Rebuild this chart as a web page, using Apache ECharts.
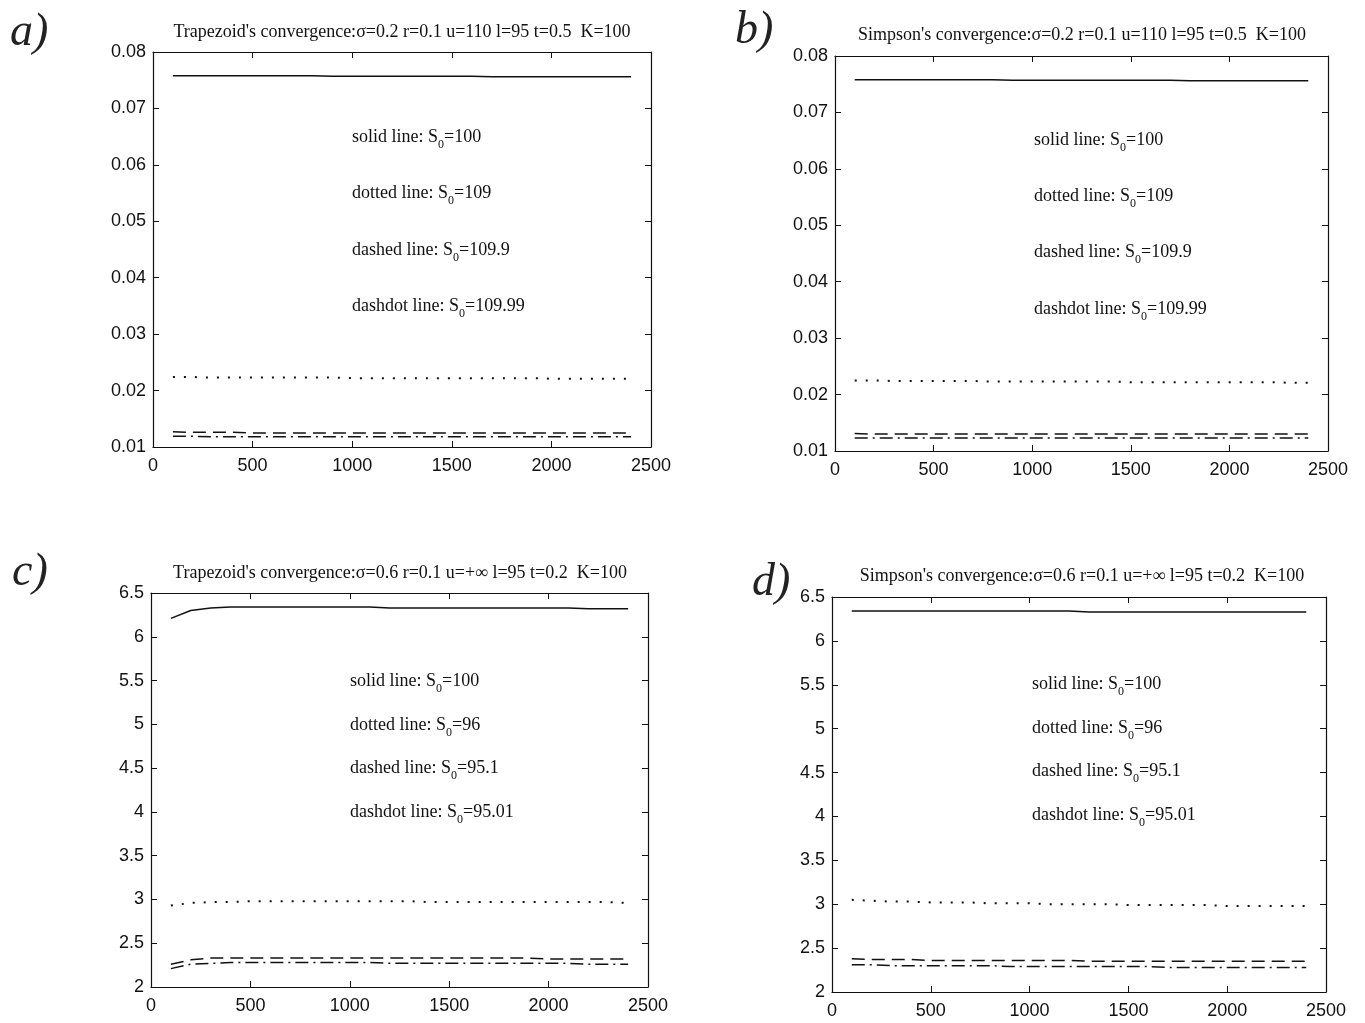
<!DOCTYPE html>
<html>
<head>
<meta charset="utf-8">
<script src="https://cdn.jsdelivr.net/npm/echarts@6/dist/echarts.min.js"></script>
<style>
  html, body { margin: 0; padding: 0; background: #fff; }
  #main { width: 1365px; height: 1023px; }
</style>
</head>
<body>
<div id="main"></div>
<script>
// x positions (number of steps)
var steps = [100,200,300,400,500,600,700,800,900,1000,1100,1200,1300,1400,1500,1600,1700,1800,1900,2000,2100,2200,2300,2400];

// a) trapezoid, sigma=0.2
var aSolid   = [0.0758,0.0758,0.0758,0.0758,0.0758,0.0758,0.0758,0.0758,0.0757,0.0757,0.0757,0.0757,0.0757,0.0757,0.0757,0.0757,0.0756,0.0756,0.0756,0.0756,0.0756,0.0756,0.0756,0.0756];
var aDotted  = [0.0224,0.0224,0.0223,0.0223,0.0223,0.0223,0.0223,0.0223,0.0223,0.0222,0.0222,0.0222,0.0222,0.0222,0.0222,0.0222,0.0222,0.0222,0.0222,0.0221,0.0221,0.0221,0.0221,0.0221];
var aDashed  = [0.0127,0.0126,0.0126,0.0126,0.0125,0.0125,0.0125,0.0125,0.0125,0.0125,0.0125,0.0125,0.0125,0.0125,0.0125,0.0125,0.0125,0.0125,0.0125,0.0125,0.0125,0.0125,0.0125,0.0125];
var aDashdot = [0.0119,0.0119,0.0118,0.0118,0.0118,0.0118,0.0118,0.0118,0.0118,0.0118,0.0118,0.0118,0.0118,0.0118,0.0118,0.0118,0.0118,0.0118,0.0118,0.0118,0.0118,0.0118,0.0118,0.0118];

// b) simpson, sigma=0.2
var bSolid   = [0.0758,0.0758,0.0758,0.0758,0.0758,0.0758,0.0758,0.0758,0.0757,0.0757,0.0757,0.0757,0.0757,0.0757,0.0757,0.0757,0.0757,0.0756,0.0756,0.0756,0.0756,0.0756,0.0756,0.0756];
var bDotted  = [0.0225,0.0225,0.0224,0.0224,0.0224,0.0224,0.0224,0.0223,0.0223,0.0223,0.0223,0.0223,0.0223,0.0223,0.0222,0.0222,0.0222,0.0222,0.0222,0.0222,0.0222,0.0222,0.0221,0.0221];
var bDashed  = [0.0131,0.0130,0.0130,0.0130,0.0130,0.0130,0.0130,0.0130,0.0130,0.0130,0.0130,0.0130,0.0130,0.0130,0.0130,0.0130,0.0130,0.0130,0.0130,0.0130,0.0130,0.0130,0.0130,0.0130];
var bDashdot = [0.0123,0.0123,0.0123,0.0123,0.0123,0.0123,0.0123,0.0123,0.0123,0.0123,0.0123,0.0123,0.0123,0.0123,0.0123,0.0123,0.0123,0.0123,0.0123,0.0123,0.0123,0.0123,0.0123,0.0123];

// c) trapezoid, sigma=0.6
var cSolid   = [6.21,6.30,6.33,6.34,6.34,6.34,6.34,6.34,6.34,6.34,6.34,6.33,6.33,6.33,6.33,6.33,6.33,6.33,6.33,6.33,6.33,6.32,6.32,6.32];
var cDotted  = [2.93,2.96,2.97,2.97,2.98,2.98,2.98,2.98,2.98,2.98,2.98,2.98,2.98,2.97,2.97,2.97,2.97,2.97,2.97,2.97,2.97,2.97,2.97,2.96];
var cDashed  = [2.26,2.31,2.33,2.33,2.33,2.33,2.33,2.33,2.33,2.33,2.33,2.33,2.33,2.33,2.33,2.33,2.33,2.33,2.33,2.32,2.32,2.32,2.32,2.32];
var cDashdot = [2.21,2.26,2.27,2.28,2.28,2.28,2.28,2.28,2.28,2.28,2.28,2.27,2.27,2.27,2.27,2.27,2.27,2.27,2.27,2.27,2.27,2.26,2.26,2.26];

// d) simpson, sigma=0.6
var dSolid   = [6.34,6.34,6.34,6.34,6.34,6.34,6.34,6.34,6.34,6.34,6.34,6.34,6.33,6.33,6.33,6.33,6.33,6.33,6.33,6.33,6.33,6.33,6.33,6.33];
var dDotted  = [3.05,3.04,3.03,3.03,3.02,3.02,3.02,3.01,3.01,3.01,3.00,3.00,3.00,3.00,2.99,2.99,2.99,2.99,2.99,2.98,2.98,2.98,2.98,2.98];
var dDashed  = [2.38,2.37,2.37,2.37,2.36,2.36,2.36,2.36,2.36,2.36,2.36,2.36,2.35,2.35,2.35,2.35,2.35,2.35,2.35,2.35,2.35,2.35,2.35,2.35];
var dDashdot = [2.31,2.31,2.30,2.30,2.30,2.30,2.30,2.30,2.29,2.29,2.29,2.29,2.29,2.29,2.29,2.29,2.28,2.28,2.28,2.28,2.28,2.28,2.28,2.28];

var xTicks = [0, 2500, 500];

var titles = [
  "Trapezoid's convergence:\u03c3=0.2 r=0.1 u=110 l=95 t=0.5  K=100",
  "Simpson's convergence:\u03c3=0.2 r=0.1 u=110 l=95 t=0.5  K=100",
  "Trapezoid's convergence:\u03c3=0.6 r=0.1 u=+\u221e l=95 t=0.2  K=100",
  "Simpson's convergence:\u03c3=0.6 r=0.1 u=+\u221e l=95 t=0.2  K=100"
];
var s0Top = ['100', '109', '109.9', '109.99'];
var s0Bottom = ['100', '96', '95.1', '95.01'];
var lineNames = ['solid line', 'dotted line', 'dashed line', 'dashdot line'];

const chart = echarts.init(document.getElementById('main'));

var panels = [
  {left: 153, top: 52, width: 498, height: 395, yMin: 0.01, yMax: 0.08, yInt: 0.01, data: [aSolid, aDotted, aDashed, aDashdot], s0: s0Top, tx: 352, ty: [135, 191, 248, 304], tc: 402, tt: 32, label: 'a)', lx: 10, ly: 10},
  {left: 835, top: 56, width: 493, height: 395, yMin: 0.01, yMax: 0.08, yInt: 0.01, data: [bSolid, bDotted, bDashed, bDashdot], s0: s0Top, tx: 1034, ty: [138, 194, 250, 307], tc: 1082, tt: 35, label: 'b)', lx: 735, ly: 8},
  {left: 151, top: 593, width: 497, height: 394, yMin: 2, yMax: 6.5, yInt: 0.5, data: [cSolid, cDotted, cDashed, cDashdot], s0: s0Bottom, tx: 350, ty: [679, 723, 766, 810], tc: 400, tt: 573, label: 'c)', lx: 12, ly: 550},
  {left: 832, top: 597, width: 494, height: 395, yMin: 2, yMax: 6.5, yInt: 0.5, data: [dSolid, dDotted, dDashed, dDashdot], s0: s0Bottom, tx: 1032, ty: [682, 726, 769, 813], tc: 1082, tt: 576, label: 'd)', lx: 752, ly: 560}
];

var lineTypes = ['solid', [2, 9], [13, 7], [13, 5, 2, 5]];

var grids = [], xAxes = [], yAxes = [], series = [], graphics = [];
var axisCommon = {
  axisLine: {onZero: false, lineStyle: {color: '#111', width: 1.2}},
  axisTick: {inside: true, length: 6, lineStyle: {color: '#111'}},
  splitLine: {show: false}
};
var tickFont = {color: '#111', fontFamily: 'Liberation Sans', fontSize: 18};

panels.forEach(function (p, i) {
  grids.push({left: p.left, top: p.top, width: p.width, height: p.height, containLabel: false});
  ['bottom', 'top'].forEach(function (pos) {
    xAxes.push(Object.assign({
      type: 'value', gridIndex: i, position: pos, min: xTicks[0], max: xTicks[1], interval: xTicks[2],
      axisLabel: Object.assign({show: pos === 'bottom', margin: 10, formatter: function (v) { return String(v); }}, tickFont)
    }, axisCommon));
  });
  ['left', 'right'].forEach(function (pos) {
    yAxes.push(Object.assign({
      type: 'value', gridIndex: i, position: pos, min: p.yMin, max: p.yMax, interval: p.yInt,
      axisLabel: Object.assign({show: pos === 'left', margin: 7}, tickFont)
    }, axisCommon));
  });
  p.data.forEach(function (vals, k) {
    series.push({
      type: 'line', xAxisIndex: i * 2, yAxisIndex: i * 2, showSymbol: false, animation: false,
      data: steps.map(function (s, j) { return [s, vals[j]]; }),
      lineStyle: {color: '#111', width: k === 1 ? 2 : 1.5, type: lineTypes[k]}
    });
  });
  graphics.push({
    type: 'text', x: p.tc, y: p.tt,
    style: {text: titles[i], fill: '#111', font: '18px "Liberation Serif"', textAlign: 'center', textVerticalAlign: 'middle'}
  });
  lineNames.forEach(function (n, k) {
    graphics.push({
      type: 'text', x: p.tx, y: p.ty[k] - 12,
      style: {
        text: '{m|' + n + ': S}{s|0}{m|=' + p.s0[k] + '}',
        rich: {
          m: {fontFamily: 'Liberation Serif', fontSize: 18, fill: '#111', lineHeight: 28, verticalAlign: 'middle'},
          s: {fontFamily: 'Liberation Serif', fontSize: 12, fill: '#111', lineHeight: 28, verticalAlign: 'bottom'}
        }
      }
    });
  });
  graphics.push({
    type: 'text', x: p.lx, y: p.ly,
    style: {text: p.label, fill: '#222', font: 'italic 46px "Liberation Serif"'}
  });
});

chart.setOption({
  backgroundColor: '#fff',
  animation: false,
  grid: grids,
  xAxis: xAxes,
  yAxis: yAxes,
  series: series,
  graphic: graphics
});
</script>
</body>
</html>
